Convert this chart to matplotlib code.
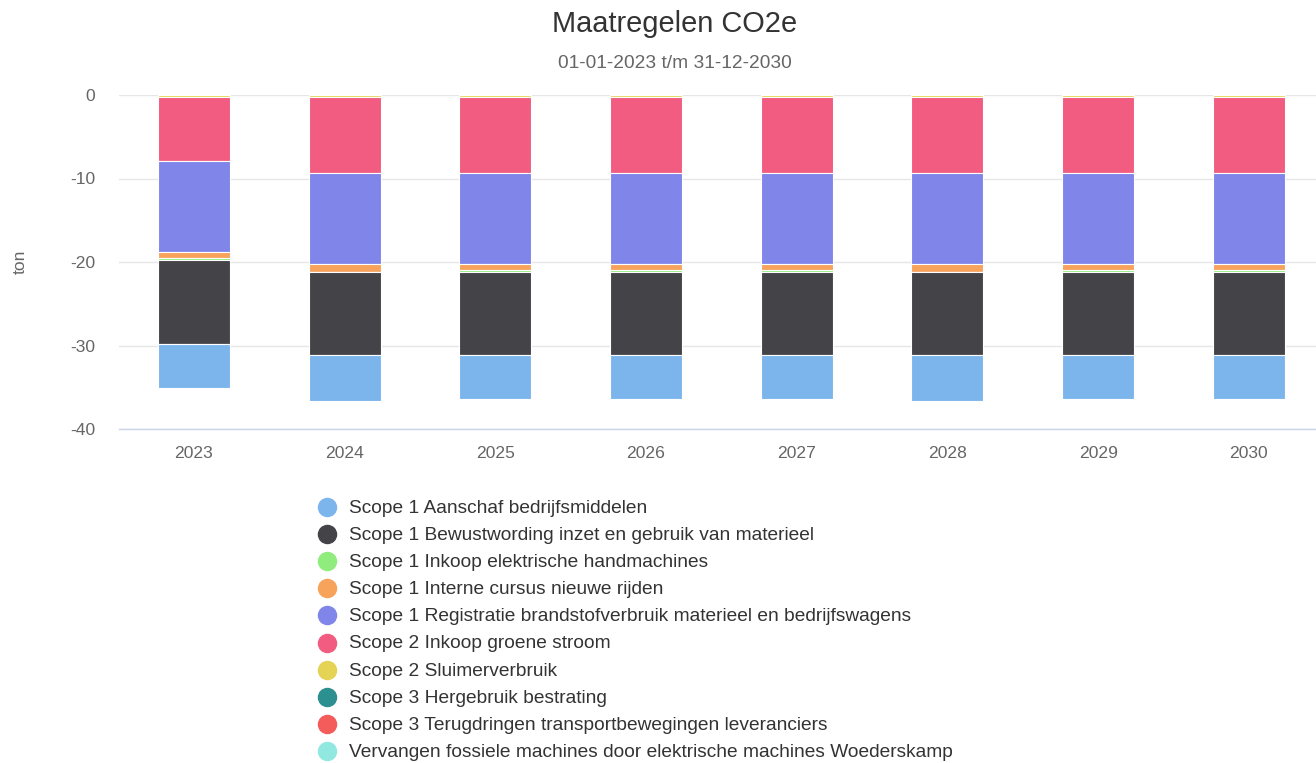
import matplotlib
matplotlib.use("Agg")
import matplotlib.pyplot as plt
from matplotlib.lines import Line2D
import numpy as np

plt.rcParams['font.family'] = ['Liberation Sans', 'DejaVu Sans']

years = ["2023", "2024", "2025", "2026", "2027", "2028", "2029", "2030"]

series_names = [
    "Scope 1 Aanschaf bedrijfsmiddelen",
    "Scope 1 Bewustwording inzet en gebruik van materieel",
    "Scope 1 Inkoop elektrische handmachines",
    "Scope 1 Interne cursus nieuwe rijden",
    "Scope 1 Registratie brandstofverbruik materieel en bedrijfswagens",
    "Scope 2 Inkoop groene stroom",
    "Scope 2 Sluimerverbruik",
    "Scope 3 Hergebruik bestrating",
    "Scope 3 Terugdringen transportbewegingen leveranciers",
    "Vervangen fossiele machines door elektrische machines Woederskamp",
]
series_colors = ["#7cb5ec", "#434348", "#90ed7d", "#f7a35c", "#8085e9",
                 "#f15c80", "#e4d354", "#2b908f", "#f45b5b", "#91e8e1"]

aanschaf      = [-5.30, -5.45, -5.30, -5.30, -5.30, -5.45, -5.30, -5.30]
bewustwording = [-10.00, -9.95, -9.95, -9.95, -9.95, -9.95, -9.95, -9.95]
handmachines  = [-0.25, -0.08, -0.30, -0.30, -0.30, -0.08, -0.30, -0.30]
cursus        = [-0.70, -0.95, -0.70, -0.70, -0.70, -0.95, -0.70, -0.70]
registratie   = [-11.00, -10.90, -10.90, -10.90, -10.90, -10.90, -10.90, -10.90]
groene_stroom = [-7.65, -9.10, -9.10, -9.10, -9.10, -9.10, -9.10, -9.10]
sluimer       = [-0.20, -0.20, -0.20, -0.20, -0.20, -0.20, -0.20, -0.20]
hergebruik    = [0, 0, 0, 0, 0, 0, 0, 0]
terugdringen  = [0, 0, 0, 0, 0, 0, 0, 0]
vervangen     = [0, 0, 0, 0, 0, 0, 0, 0]

series_values = [aanschaf, bewustwording, handmachines, cursus, registratie,
                 groene_stroom, sluimer, hergebruik, terugdringen, vervangen]

W, H = 1316, 763
fig = plt.figure(figsize=(W / 100, H / 100), dpi=100)

left_px, right_px, top_px, bot_px = 118.6, 1316, 95, 429
ax = fig.add_axes([left_px / W, 1 - bot_px / H, (right_px - left_px) / W, (bot_px - top_px) / H])

x = np.arange(len(years))
cat_w = 150.7
xmax = -0.5 + (right_px - left_px) / cat_w
ax.set_xlim(-0.5, xmax)
ax.set_ylim(-40, 0)

# stack: last series closest to zero
bottom = np.zeros(len(years))
for vals, col in zip(series_values[::-1], series_colors[::-1]):
    v = np.array(vals, dtype=float)
    ax.bar(x, v, bottom=bottom, width=72 / cat_w, color=col,
           edgecolor="white", linewidth=0.8, zorder=3, clip_on=False)
    bottom = bottom + v

ax.set_yticks([0, -10, -20, -30, -40])
ax.set_yticklabels(["0", "-10", "-20", "-30", "-40"])
ax.set_xticks(x)
ax.set_xticklabels(years)
ax.grid(axis="y", color="#e6e6e6", linewidth=1.0, zorder=0)
ax.tick_params(axis="y", length=0, pad=17, labelsize=12.6, labelcolor="#666666")
ax.tick_params(axis="x", length=0, pad=12, labelsize=12.6, labelcolor="#666666")
for s in ["top", "right", "left"]:
    ax.spines[s].set_visible(False)
ax.spines["bottom"].set_color("#ccd6eb")
ax.spines["bottom"].set_linewidth(1.0)

fig.text(20 / W, 1 - 262 / H, "ton", rotation=90, ha="center", va="center",
         fontsize=12.6, color="#666666")

fig.text(675 / W, 1 - 24 / H, "Maatregelen CO2e", ha="center", va="center",
         fontsize=20.9, color="#333333")
fig.text(675 / W, 1 - 63 / H, "01-01-2023 t/m 31-12-2030", ha="center", va="center",
         fontsize=13.8, color="#666666")

# legend
for i, (name, col) in enumerate(zip(series_names, series_colors)):
    yy = 1 - (507 + 27.1 * i) / H
    fig.add_artist(Line2D([327 / W], [yy], marker="o", markersize=13,
                          markerfacecolor=col, markeredgecolor=col,
                          linestyle="none", transform=fig.transFigure))
    fig.text(349 / W, yy - 1.5 / H, name, ha="left", va="center", fontsize=13.75, color="#333333")

fig.savefig("out.png", dpi=100)
